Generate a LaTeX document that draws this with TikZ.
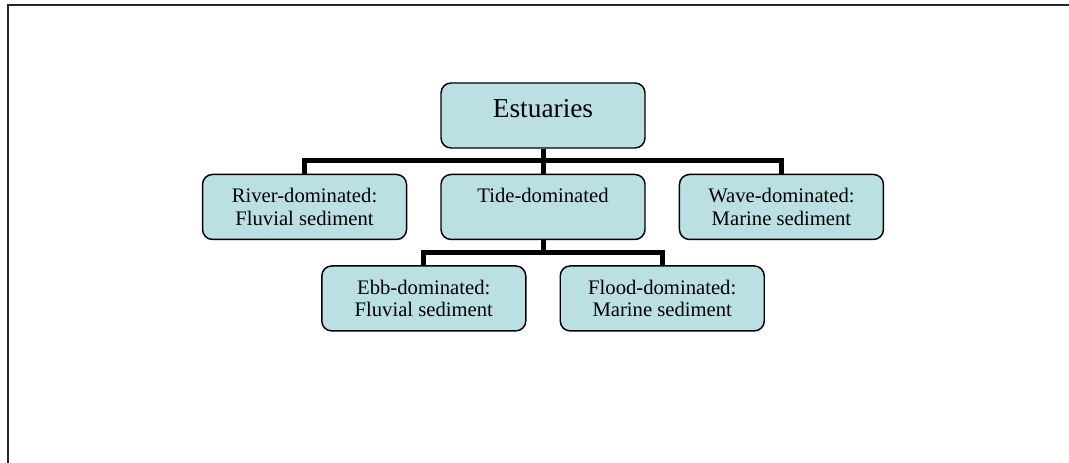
\documentclass[tikz,border=0pt]{standalone}
\usepackage{fontspec}
\setmainfont{Liberation Serif}
\usetikzlibrary{positioning}
\definecolor{boxfill}{RGB}{187,224,227}

\begin{document}
\begin{tikzpicture}[x=0.75pt, y=0.75pt, node distance=18.75pt and 24.75pt,
    box/.style={draw, line width=1.1pt, rounded corners=7.5pt, fill=boxfill,
      minimum width=153pt, minimum height=48.75pt, align=center,
      font=\fontsize{15.5}{17}\selectfont},
    link/.style={line width=3.75pt}]
  \useasboundingbox (0,0) rectangle (1069,-463);
  \draw [line width=1.5pt, black!85] (7.7,-463) -- (7.7,-5) -- (1069,-5);

  \node (estuaries) [box, font=\fontsize{20.5}{24}\selectfont, text depth=11pt] at (543,-115.5) {Estuaries};
  \node (tide) [box, below=of estuaries, text depth=18pt] {Tide-dominated};
  \node (river) [box, left=of tide] {River-dominated:\\Fluvial sediment};
  \node (wave) [box, right=of tide] {Wave-dominated:\\Marine sediment};
  \node (ebb) [box, below left=18.75pt and 12.375pt of tide.south, anchor=north east] {Ebb-dominated:\\Fluvial sediment};
  \node (flood) [box, below right=18.75pt and 12.375pt of tide.south, anchor=north west] {Flood-dominated:\\Marine sediment};

  \draw [link] (estuaries) -- (tide);
  \draw [link] (estuaries.south) -- ++(0pt,-9pt) -| (river.north);
  \draw [link] (estuaries.south) -- ++(0pt,-9pt) -| (wave.north);
  \draw [link] (tide.south) -- ++(0pt,-9pt) -| (ebb.north);
  \draw [link] (tide.south) -- ++(0pt,-9pt) -| (flood.north);
\end{tikzpicture}
\end{document}
